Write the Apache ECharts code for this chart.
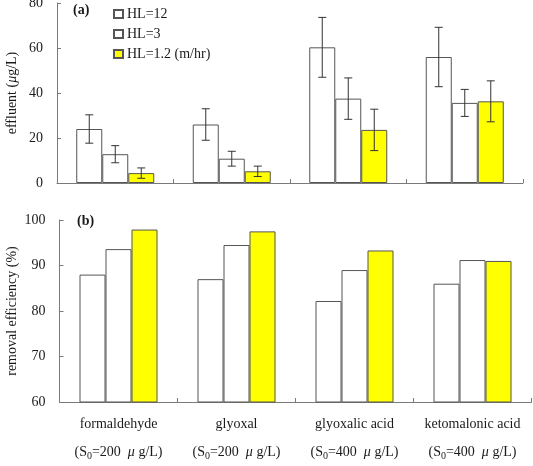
<!DOCTYPE html>
<html><head><meta charset="utf-8">
<script src="https://cdn.jsdelivr.net/npm/echarts@6/dist/echarts.min.js"></script>
<style>html,body{margin:0;padding:0;background:#fff}#c{width:533px;height:466px}</style>
</head><body><div id="c"></div>
<script>
var categories = ['formaldehyde', 'glyoxal', 'glyoxalic acid', 'ketomalonic acid'];
var initialConc = ['200', '200', '400', '400'];
var seriesNames = ['HL=12', 'HL=3', 'HL=1.2 (m/hr)'];
var effluentHL12 = [24, 26, 60.3, 56];
var effluentHL3 = [12.8, 10.8, 37.5, 35.6];
var effluentHL1_2 = [4.4, 5.2, 23.6, 36.3];
var errHL12 = [6.3, 7, 13.3, 13.2];
var errHL3 = [3.8, 3.3, 9.2, 6];
var errHL1_2 = [2.3, 2.3, 9.2, 9.1];
var removalHL12 = [88, 87, 82.2, 86];
var removalHL3 = [93.6, 94.5, 89, 91.2];
var removalHL1_2 = [97.9, 97.5, 93.3, 91];
var effluentTicks = [0, 20, 40, 60, 80];
var removalTicks = [60, 70, 80, 90, 100];

var FONT = "'Liberation Serif', 'Times New Roman', serif";
var TXT = '#1a1a1a';
var AXIS = '#7a7a7a';
var BORDER = '#555';
var YELLOW = '#ffff00';
var fills = ['#ffffff', '#ffffff', YELLOW];
var BW = 26;

var chart = echarts.init(document.getElementById('c'));

var effVals = [effluentHL12, effluentHL3, effluentHL1_2];
var errVals = [errHL12, errHL3, errHL1_2];
var remVals = [removalHL12, removalHL3, removalHL1_2];

var errData = [];
for (var s = 0; s < 3; s++) {
  for (var i = 0; i < categories.length; i++) {
    errData.push([i, effVals[s][i] - errVals[s][i], effVals[s][i] + errVals[s][i], s]);
  }
}

var series = [];
for (var s = 0; s < 3; s++) {
  series.push({
    name: seriesNames[s], type: 'bar', xAxisIndex: 0, yAxisIndex: 0,
    data: effVals[s], barWidth: BW, barGap: '0%',
    itemStyle: { color: fills[s], borderColor: BORDER, borderWidth: 1 },
    emphasis: { disabled: true }
  });
}
for (var s = 0; s < 3; s++) {
  series.push({
    name: seriesNames[s], type: 'bar', xAxisIndex: 1, yAxisIndex: 1,
    data: remVals[s], barWidth: BW, barGap: '0%',
    itemStyle: { color: fills[s], borderColor: BORDER, borderWidth: 1 },
    emphasis: { disabled: true }
  });
}
series.push({
  type: 'custom', xAxisIndex: 0, yAxisIndex: 0, z: 10,
  data: errData,
  renderItem: function (params, api) {
    var off = (api.value(3) - 1) * BW;
    var lo = api.coord([api.value(0), api.value(1)]);
    var hi = api.coord([api.value(0), api.value(2)]);
    var x = lo[0] + off, c = 4;
    var st = { stroke: '#333', lineWidth: 1 };
    return { type: 'group', children: [
      { type: 'line', shape: { x1: x, y1: lo[1], x2: x, y2: hi[1] }, style: st },
      { type: 'line', shape: { x1: x - c, y1: lo[1], x2: x + c, y2: lo[1] }, style: st },
      { type: 'line', shape: { x1: x - c, y1: hi[1], x2: x + c, y2: hi[1] }, style: st }
    ]};
  }
});

function yAxisCfg(grid, ticks, nameRich, gap) {
  return {
    type: 'value', gridIndex: grid,
    min: ticks[0], max: ticks[ticks.length - 1], interval: ticks[1] - ticks[0],
    axisLine: { show: true, lineStyle: { color: AXIS, width: 1 } },
    axisTick: { show: true, inside: true, length: 4, lineStyle: { color: AXIS } },
    splitLine: { show: false },
    axisLabel: { color: TXT, fontFamily: FONT, fontSize: 14, margin: 14 },
    name: nameRich, nameLocation: 'middle', nameGap: gap, nameRotate: 90,
    nameMoveOverlap: false,
    nameTextStyle: {
      color: TXT, fontFamily: FONT, fontSize: 14,
      rich: {
        n: { color: TXT, fontFamily: FONT, fontSize: 14 },
        i: { color: TXT, fontFamily: FONT, fontSize: 14, fontStyle: 'italic' }
      }
    }
  };
}

function xAxisCfg(grid, showLabels) {
  return {
    type: 'category', gridIndex: grid, data: categories,
    axisLine: { show: true, lineStyle: { color: AXIS, width: 1 } },
    axisTick: { show: true, inside: true, length: 4, alignWithLabel: false, lineStyle: { color: AXIS } },
    splitLine: { show: false },
    axisLabel: {
      show: showLabels, interval: 0, margin: 8, lineHeight: 28,
      color: TXT, fontFamily: FONT, fontSize: 14,
      formatter: function (v, idx) {
        return '{n|' + v + '}\n{n|(S}{sub|0}{n|=' + initialConc[idx] + '  }{i|μ}{n| g/L)}';
      },
      rich: {
        n: { color: TXT, fontFamily: FONT, fontSize: 14, lineHeight: 28 },
        i: { color: TXT, fontFamily: FONT, fontSize: 14, fontStyle: 'italic', lineHeight: 28 },
        sub: { color: TXT, fontFamily: FONT, fontSize: 10, verticalAlign: 'middle', lineHeight: 12, padding: [8, 0, 0, 0] }
      }
    }
  };
}

chart.setOption({
  animation: false,
  backgroundColor: '#fff',
  grid: [
    { left: 57, right: 10, top: 3, height: 180, containLabel: false, outerBoundsMode: 'none' },
    { left: 59.5, right: 1.5, top: 220, height: 182, containLabel: false, outerBoundsMode: 'none' }
  ],
  xAxis: [xAxisCfg(0, false), xAxisCfg(1, true)],
  yAxis: [
    yAxisCfg(0, effluentTicks, '{n|effluent (}{i|μ}{n|g/L)}', 38),
    yAxisCfg(1, removalTicks, '{n|removal efficiency (%)}', 40)
  ],
  legend: {
    orient: 'vertical', left: 108, top: 2, itemGap: 6,
    itemWidth: 9, itemHeight: 8, icon: 'rect', selectedMode: false,
    data: seriesNames,
    textStyle: { color: TXT, fontFamily: FONT, fontSize: 14, padding: [0, 0, 0, -1] }
  },
  graphic: [
    { type: 'text', left: 73, top: 3, style: { text: '(a)', font: 'bold 14px ' + FONT, fill: TXT } },
    { type: 'text', left: 77, top: 214, style: { text: '(b)', font: 'bold 14px ' + FONT, fill: TXT } }
  ],
  series: series
});
</script></body></html>
